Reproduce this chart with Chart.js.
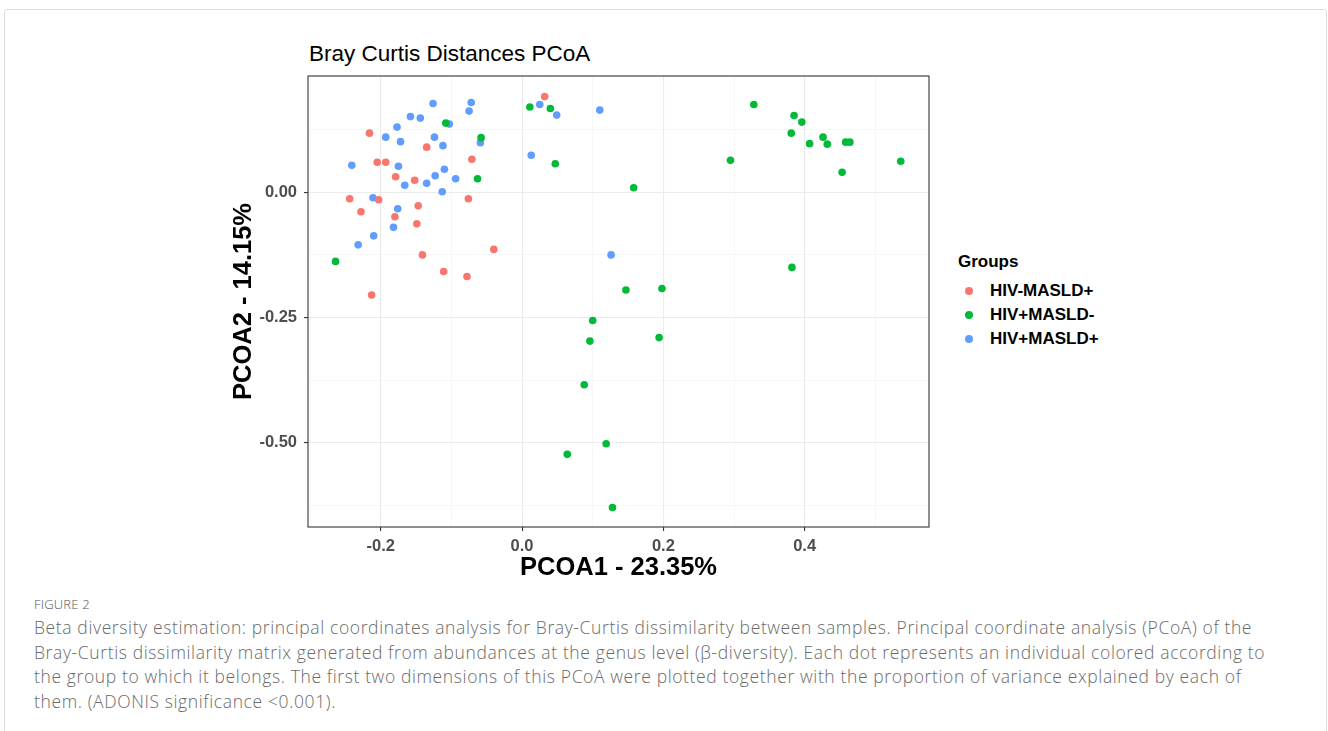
<!DOCTYPE html>
<html>
<head>
<meta charset="utf-8">
<script src="https://cdn.jsdelivr.net/npm/chart.js@4.4.1/dist/chart.umd.min.js"></script>
<style>
  body { margin: 0; background: #fff; width: 1328px; height: 731px; overflow: hidden; position: relative; font-family: "Liberation Sans", Arial, sans-serif; }
  #frame { position: absolute; left: 4px; top: 9px; width: 1321px; height: 760px; border: 1px solid #dcdcdc; border-radius: 3px; }
  #title { position: absolute; left: 309px; top: 41px; font-size: 22.5px; color: #000; white-space: nowrap; }
  #wrap { position: absolute; left: 220px; top: 35px; width: 720px; height: 550px; }
  #legend { position: absolute; left: 958px; top: 250px; }
  #legend .head { font-weight: bold; font-size: 17px; color: #000; line-height: 24px; margin-bottom: 5px; }
  #legend .item { position: relative; height: 24px; font-weight: bold; font-size: 17px; color: #000; padding-left: 32px; line-height: 24px; }
  #legend .dot { position: absolute; left: 7px; top: 8px; width: 8px; height: 8px; border-radius: 50%; }
  #caption { position: absolute; left: 34px; top: 595px; color: #6a6a6a; font-family: "Open Sans", sans-serif; font-weight: 300; }
  #caption .fig { font-size: 13px; letter-spacing: 0.2px; color: #555; margin-bottom: 2px; }
  #caption .txt { font-size: 17.5px; letter-spacing: 0.62px; line-height: 24.5px; white-space: nowrap; }
</style>
</head>
<body>
<div id="frame"></div>
<div id="title">Bray Curtis Distances PCoA</div>
<div id="wrap"><canvas id="pcoa"></canvas></div>
<div id="legend"></div>
<div id="caption">
  <div class="fig">FIGURE 2</div>
  <div class="txt">Beta diversity estimation: principal coordinates analysis for Bray-Curtis dissimilarity between samples. Principal coordinate analysis (PCoA) of the<br>Bray-Curtis dissimilarity matrix generated from abundances at the genus level (β-diversity). Each dot represents an individual colored according to<br>the group to which it belongs. The first two dimensions of this PCoA were plotted together with the proportion of variance explained by each of<br>them. (ADONIS significance &lt;0.001).</div>
</div>
<script>
const groups = ['HIV-MASLD+', 'HIV+MASLD-', 'HIV+MASLD+'];
const groupColors = ['#F8766D', '#00BA38', '#619CFF'];

// HIV-MASLD+
const negPos_pc1 = [0.032, -0.216, -0.135, -0.071, -0.205, -0.193, -0.179, -0.152, -0.244, -0.203, -0.076, -0.228, -0.147, -0.180, -0.149, -0.141, -0.040, -0.111, -0.078, -0.213];
const negPos_pc2 = [0.191, 0.118, 0.090, 0.066, 0.060, 0.060, 0.031, 0.024, -0.013, -0.015, -0.013, -0.039, -0.027, -0.049, -0.063, -0.125, -0.114, -0.158, -0.168, -0.205];

// HIV+MASLD-
const posNeg_pc1 = [-0.108, -0.058, -0.063, 0.011, 0.040, 0.047, -0.264, 0.158, 0.295, 0.328, 0.385, 0.396, 0.381, 0.426, 0.407, 0.432, 0.458, 0.464, 0.453, 0.536, 0.382, 0.147, 0.198, 0.100, 0.096, 0.194, 0.088, 0.119, 0.064, 0.128];
const posNeg_pc2 = [0.138, 0.109, 0.027, 0.170, 0.167, 0.057, -0.138, 0.009, 0.064, 0.175, 0.153, 0.140, 0.118, 0.110, 0.097, 0.096, 0.100, 0.100, 0.040, 0.062, -0.150, -0.195, -0.192, -0.256, -0.297, -0.290, -0.384, -0.502, -0.523, -0.629];

// HIV+MASLD+
const posPos_pc1 = [-0.126, -0.072, -0.075, -0.158, -0.144, -0.103, -0.177, -0.193, -0.172, -0.124, -0.112, -0.059, -0.241, -0.175, -0.110, -0.123, -0.094, -0.135, -0.166, -0.113, -0.211, -0.176, -0.182, 0.013, 0.025, 0.049, 0.110, -0.210, -0.232, 0.126];
const posPos_pc2 = [0.177, 0.179, 0.162, 0.151, 0.148, 0.136, 0.130, 0.110, 0.101, 0.110, 0.093, 0.099, 0.054, 0.052, 0.046, 0.033, 0.027, 0.018, 0.014, 0.001, -0.011, -0.033, -0.070, 0.074, 0.175, 0.154, 0.164, -0.087, -0.105, -0.125];

const xMajor = [-0.2, 0.0, 0.2, 0.4];
const xMinor = [-0.3, -0.1, 0.1, 0.3, 0.5];
const yMajor = [-0.5, -0.25, 0.0];
const yMinor = [-0.625, -0.375, -0.125, 0.125];

function toPoints(xs, ys) {
  return xs.map((x, i) => ({ x: x, y: ys[i] }));
}
function isMajor(list, v) {
  return list.some(m => Math.abs(m - v) < 1e-9);
}

const seriesX = [negPos_pc1, posNeg_pc1, posPos_pc1];
const seriesY = [negPos_pc2, posNeg_pc2, posPos_pc2];

const datasets = groups.map((g, i) => ({
  label: g,
  data: toPoints(seriesX[i], seriesY[i]),
  backgroundColor: groupColors[i],
  borderWidth: 0,
  pointRadius: 3.8,
  pointHoverRadius: 3.8
}));

// legend made from the same groups
const legend = document.getElementById('legend');
legend.innerHTML = '<div class="head">Groups</div>' + groups.map((g, i) =>
  `<div class="item"><span class="dot" style="background:${groupColors[i]}"></span>${g}</div>`
).join('');

// panel border like ggplot theme_bw
const panelBorder = {
  id: 'panelBorder',
  afterDraw(chart) {
    const a = chart.chartArea, ctx = chart.ctx;
    ctx.save();
    ctx.strokeStyle = '#333333';
    ctx.lineWidth = 1.1;
    ctx.strokeRect(a.left, a.top, a.right - a.left, a.bottom - a.top);
    ctx.restore();
  }
};

function gridOpts(major) {
  return {
    color: ctx => isMajor(major, ctx.tick.value) ? '#EBEBEB' : '#F3F3F3',
    lineWidth: ctx => isMajor(major, ctx.tick.value) ? 1.1 : 0.7,
    tickColor: ctx => isMajor(major, ctx.tick.value) ? '#333333' : 'rgba(0,0,0,0)',
    tickLength: 4,
    drawTicks: true
  };
}

new Chart(document.getElementById('pcoa'), {
  type: 'scatter',
  data: { datasets: datasets },
  options: {
    responsive: true,
    maintainAspectRatio: false,
    animation: false,
    layout: { padding: { left: 0, top: 41, right: 11, bottom: 0 } },
    plugins: {
      legend: { display: false },
      title: { display: false },
      tooltip: { enabled: false }
    },
    scales: {
      x: {
        type: 'linear',
        min: -0.303,
        max: 0.576,
        afterBuildTicks: s => { s.ticks = xMinor.concat(xMajor).sort((a, b) => a - b).map(v => ({ value: v })); },
        afterFit: s => { s.height = 58; },
        grid: gridOpts(xMajor),
        border: { display: false },
        ticks: {
          autoSkip: false,
          maxRotation: 0,
          padding: 6,
          color: '#4D4D4D',
          font: { family: 'Liberation Sans', size: 16.5, weight: 'bold' },
          callback: v => isMajor(xMajor, v) ? v.toFixed(1) : ''
        },
        title: {
          display: true,
          text: 'PCOA1 - 23.35%',
          color: '#000',
          padding: { top: 0, bottom: 2 },
          font: { family: 'Liberation Sans', size: 25.5, weight: 'bold', lineHeight: 1.2 }
        }
      },
      y: {
        type: 'linear',
        min: -0.668,
        max: 0.232,
        afterBuildTicks: s => { s.ticks = yMinor.concat(yMajor).sort((a, b) => a - b).map(v => ({ value: v })); },
        afterFit: s => { s.width = 88; },
        grid: gridOpts(yMajor),
        border: { display: false },
        ticks: {
          autoSkip: false,
          padding: 7,
          color: '#4D4D4D',
          font: { family: 'Liberation Sans', size: 16.5, weight: 'bold' },
          callback: v => isMajor(yMajor, v) ? v.toFixed(2) : ''
        },
        title: {
          display: true,
          text: 'PCOA2 - 14.15%',
          color: '#000',
          padding: { top: 9, bottom: 0 },
          font: { family: 'Liberation Sans', size: 25.5, weight: 'bold', lineHeight: 1.2 }
        }
      }
    }
  },
  plugins: [panelBorder]
});
</script>
</body>
</html>
